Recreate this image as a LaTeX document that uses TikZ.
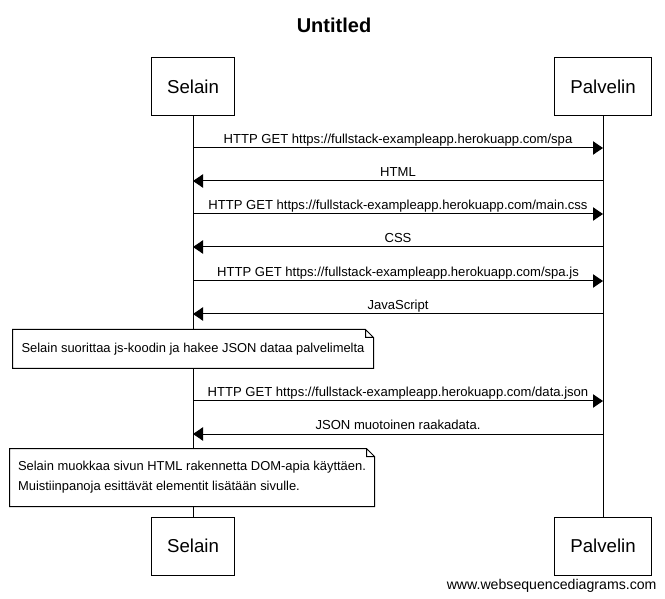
\documentclass[tikz,border=0pt]{standalone}
\usepackage{fontspec}
\setmainfont{Liberation Sans}
\usetikzlibrary{arrows.meta}

\begin{document}
\begin{tikzpicture}[x=0.75pt,y=-0.75pt,line width=0.75pt,
    actor/.style={draw,fill=white,inner xsep=12pt,minimum height=43.5pt,font=\fontsize{14}{16}\selectfont},
    msg/.style={-{Triangle[length=7.5pt,width=10pt]}},
    lbl/.style={anchor=base,yshift=3.6pt,inner sep=0pt,font=\fontsize{9.8}{11}\selectfont},
    note/.style={fill=white,inner sep=0pt,font=\fontsize{9.7}{15}\selectfont,align=left}]
                \def\sx{193}
                \def\px{603}
                \useasboundingbox (0,0) rectangle (665,599);
                \node [font=\bfseries\fontsize{15}{18}\selectfont] (title) at (334,25) {Untitled};
                \node [actor] (selain) at (\sx,87) {Selain};
                \node [actor] (palvelin) at (\px,87) {Palvelin};
                \node [actor] (selainB) at (\sx,546) {Selain};
                \node [actor] (palvelinB) at (\px,546) {Palvelin};
                \draw (selain) -- (selainB);
                \draw (palvelin) -- (palvelinB);
                \foreach \i/\y in {1/148,2/181,3/214,4/247,5/281,6/314,7/401,8/434} {
                    \coordinate (s\i) at (\sx,\y);
                    \coordinate (p\i) at (\px,\y);
                }
                \draw [msg] (s1) -- node [lbl] {HTTP GET https://fullstack-exampleapp.herokuapp.com/spa} (p1);
                \draw [msg] (p2) -- node [lbl] {HTML} (s2);
                \draw [msg] (s3) -- node [lbl] {HTTP GET https://fullstack-exampleapp.herokuapp.com/main.css} (p3);
                \draw [msg] (p4) -- node [lbl] {CSS} (s4);
                \draw [msg] (s5) -- node [lbl] {HTTP GET https://fullstack-exampleapp.herokuapp.com/spa.js} (p5);
                \draw [msg] (p6) -- node [lbl] {JavaScript} (s6);
                \draw [msg] (s7) -- node [lbl] {HTTP GET https://fullstack-exampleapp.herokuapp.com/data.json} (p7);
                \draw [msg] (p8) -- node [lbl] {JSON muotoinen raakadata.} (s8);
                \node [note,minimum width=270pt,minimum height=28.5pt] (n1) at (193,349)
                    {Selain suorittaa js-koodin ja hakee JSON dataa palvelimelta};
                \node [note,minimum width=273pt,minimum height=42.75pt] (n2) at (192,477.5)
                    {Selain muokkaa sivun HTML rakennetta DOM-apia käyttäen.\\Muistiinpanoja esittävät elementit lisätään sivulle.};
                \foreach \n in {n1,n2}
                    \draw (\n.south west) -- (\n.north west) -- ([xshift=-6pt]\n.north east)
                        -- ([yshift=-6pt]\n.north east) -- (\n.south east) -- cycle
                        ([xshift=-6pt]\n.north east) |- ([yshift=-6pt]\n.north east);
                \node [anchor=base east,inner sep=0pt,font=\fontsize{10.6}{12}\selectfont] (wsd) at (657,589) {www.websequencediagrams.com};
            \end{tikzpicture}
\end{document}
